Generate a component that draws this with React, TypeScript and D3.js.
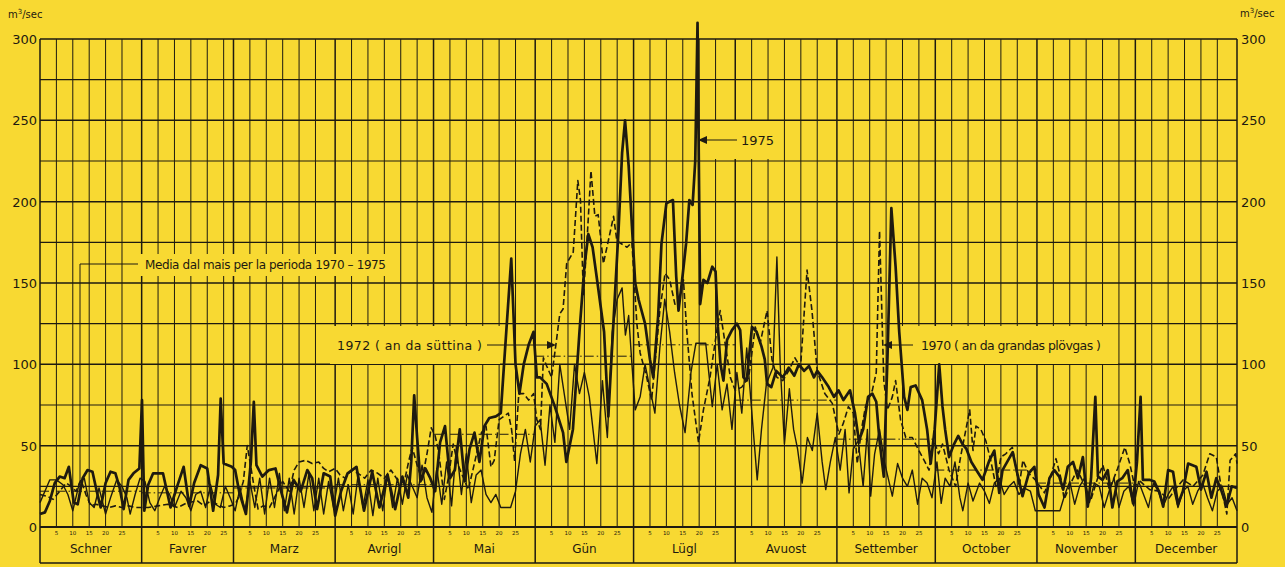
import React from "react";
import * as d3 from "d3";

// ---------- data ----------
const MONTHS = ["Schner", "Favrer", "Marz", "Avrigl", "Mai", "Gün", "Lügl", "Avuost", "Settember", "October", "November", "December"];
const MONTH_DAYS = [31, 28, 31, 30, 31, 30, 31, 31, 30, 31, 30, 31];
const DAY_TICKS = [5, 10, 15, 20, 25];
const Y_TICKS = [0, 50, 100, 150, 200, 250, 300];
const Y_GRID = [25, 50, 75, 100, 125, 150, 175, 200, 225, 250, 275, 300];
// monthly mean 1970-1975 (m3/sec)
const MEAN = [22, 21, 24, 26, 57, 105, 112, 78, 54, 35, 27, 25];

// [day of year, m3/sec]
const THICK_1975: [number, number][] = [
  [0, 8], [1.5, 9], [3, 16], [4.5, 27], [6, 31], [7.5, 30], [8.8, 37], [10.3, 15], [11.5, 14], [13, 30], [14.5, 35], [16, 34], [17.3, 22], [18.5, 12], [20, 27], [21.5, 34], [23, 33], [24.3, 24], [25.5, 11], [27, 29], [28.5, 33], [30.3, 36], [31.1, 78], [31.8, 10],
  [33, 26], [34.5, 33], [37.5, 33], [39.8, 12], [41.5, 23], [43.8, 37], [45.5, 13], [47, 27], [49, 38], [51, 36], [52.8, 10], [54.3, 32], [55.1, 79], [56, 39], [58.5, 37], [59.5, 35],
  [60.8, 21], [62.8, 8], [64.3, 40], [65.2, 77], [66, 38], [67.8, 31], [69.8, 35], [71.8, 36], [73.5, 22], [75.3, 9], [77.3, 29], [79.5, 22], [81.5, 35], [83, 30], [84.5, 11], [86.5, 33], [88.5, 31], [90, 7],
  [91.8, 22], [93.8, 33], [96.5, 37], [98.8, 10], [101.3, 34], [103.5, 12], [106, 32], [108.3, 11], [110.5, 31], [112.3, 18], [113.2, 40], [114.1, 81], [115, 55], [116, 28], [117.5, 36], [119, 30],
  [120.5, 22], [122, 52], [123.5, 62], [125, 30], [126.5, 35], [128, 60], [129.5, 28], [131, 48], [132.5, 58], [134, 40], [135.5, 62], [137, 67], [139, 68], [140.5, 70], [141.5, 100], [143.7, 165], [145, 100], [146.2, 82], [147.5, 100], [149, 112], [150.5, 120], [151.5, 92],
  [152.5, 92], [154.5, 88], [157, 74], [159.5, 58], [160.5, 40], [162.5, 60], [164.5, 120], [166, 160], [167.2, 180], [168.5, 172], [170, 150], [172, 120], [173.3, 68], [175, 131], [176.4, 182], [177.5, 230], [178.4, 250], [179.5, 222], [180.5, 185],
  [181.5, 150], [182.5, 140], [184.5, 125], [186, 103], [187, 92], [188.5, 130], [189.5, 174], [191, 199], [193, 201], [194, 154], [194.7, 133], [195.7, 150], [197, 174], [198, 201], [199, 198], [199.8, 225], [200.5, 310], [201.3, 137], [202.3, 152], [203.5, 150], [205, 160], [206, 157], [206.7, 123], [207.5, 100], [208.4, 90], [209.5, 115], [211, 121], [212.5, 125], [213.5, 121],
  [214.5, 92], [215.5, 90], [217.1, 123], [218.5, 120], [220, 111], [221, 103], [221.7, 88], [223, 86], [224.5, 96], [226.5, 92], [228.3, 98], [230, 93], [231.4, 100], [233, 96], [234.5, 99], [236, 92], [237, 96], [238.5, 92], [240.5, 86], [242.1, 80],
  [243.5, 84], [245, 78], [247, 84], [248.5, 70], [249.7, 53], [251, 60], [252.5, 80], [253.8, 82], [255, 77], [256, 53], [257.3, 31], [258.5, 110], [259.6, 196], [260.9, 160], [262, 120], [263.5, 80], [264.5, 72], [265.5, 86], [267, 87], [269, 78], [270.5, 60], [271.6, 39], [272.8, 60],
  [274.2, 100], [275.2, 74], [276, 60], [277.2, 43], [278.5, 50], [280, 56], [281.3, 51], [282.5, 48], [284, 40], [285.5, 35], [287.4, 29], [289.5, 41], [291, 47], [292.5, 21], [293.5, 35], [296.6, 46], [298, 33], [299.6, 19], [301.5, 33], [303.2, 37],
  [304.5, 20], [306.3, 12], [307.8, 30], [309.3, 35], [310.8, 31], [312, 23], [313.4, 37], [315, 40], [316.5, 30], [318, 43], [319.5, 12.5], [320.5, 30], [321.8, 80], [322.6, 31], [324, 29], [325.6, 35], [327, 12], [328.5, 28], [330, 30], [331.7, 35], [333.3, 14.5],
  [334.5, 40], [335.6, 80], [336.3, 29], [338.3, 29], [339.8, 28], [341.4, 21], [342.5, 12.5], [344, 35], [345.5, 34], [347, 14], [348.5, 22], [350.1, 39], [352.6, 37], [354, 23], [355.7, 34], [357.2, 18], [358.7, 30], [360.3, 22], [361.8, 13], [363.4, 25], [365, 24],
];

const DASHED_1970: [number, number][] = [
  [0, 20], [2, 19], [4, 17], [6, 22], [8, 27], [9.5, 25], [11, 22], [12.5, 29], [14, 20], [15.5, 13], [17, 14], [19, 13], [21, 12], [23, 13], [25, 12], [27, 13], [29, 12], [31, 12],
  [33, 12], [36, 13], [39, 14], [42, 12], [45, 15], [48, 16], [50, 13], [52, 16], [54, 14], [56, 12], [58, 13], [59.5, 14],
  [60.5, 18], [62, 28], [63.2, 50], [64.2, 38], [65.5, 22], [66.5, 11], [68, 13], [70, 12], [72, 20], [74, 28], [76, 22], [77.5, 35], [79, 40], [81, 41], [83, 39], [85, 40], [86.5, 36], [88, 34], [90, 36],
  [91.5, 32], [93, 30], [95, 35], [97, 33], [99, 30], [101, 35], [103, 33], [105, 30], [107, 35], [109, 29], [111, 27], [112.5, 41], [113.5, 49], [115, 38], [116.5, 29], [118, 45], [119.3, 61], [120.5, 56],
  [121.5, 47], [123.3, 17], [124.5, 30], [126, 51], [127.5, 38], [130.6, 23], [132, 35], [134.6, 58], [136, 62], [137.5, 37], [138.5, 41], [140, 66], [142.8, 70], [143.8, 60], [144.7, 41], [146, 82], [147.5, 82], [149, 78], [150.5, 82], [151.5, 66], [152.6, 60],
  [153.5, 104], [154.5, 99], [156, 92], [157.5, 115], [158.5, 131], [159.5, 134], [160.6, 162], [162.6, 169], [164, 213], [164.8, 201], [165.7, 142], [166.8, 176], [168, 219], [169.2, 191], [170.2, 192], [171.8, 162], [173.3, 176], [174.9, 191], [175.9, 176], [177.4, 174], [179, 172], [180.5, 175], [181.3, 148],
  [182, 125], [183, 107], [185, 92], [186.5, 78], [187.5, 100], [189, 133], [190.6, 156], [192, 152], [193.6, 137], [195, 140], [196.2, 152], [197.2, 121], [198.8, 82], [200.8, 52], [202.3, 72], [204.3, 92], [206.4, 121], [207.4, 133], [208.9, 113], [210.5, 92], [212, 84],
  [214, 86], [216.1, 92], [218.1, 123], [219.6, 113], [221.7, 133], [223.2, 103], [224.7, 92], [226.5, 90], [228.3, 96], [230.2, 104], [231.9, 98], [233.9, 158], [235.4, 133], [237, 96], [239.3, 82], [241.6, 76], [243.6, 57],
  [245, 64], [246.5, 74], [248, 70], [249.2, 39], [250.5, 60], [251.7, 74], [253.8, 84], [255, 95], [256, 182], [257.3, 90], [258.4, 72], [259.9, 80], [260.9, 90], [262.4, 66], [264, 55], [266, 55], [268, 47], [269.6, 41], [271.1, 35], [272.6, 53],
  [274, 45], [275.2, 51], [277.2, 35], [279.2, 25], [280.7, 43], [283.5, 72], [284.5, 47], [285.4, 62], [286.9, 60], [288.4, 53], [289.9, 41], [291.5, 25], [293, 43], [294.5, 45], [296.5, 49], [298.6, 25], [299.7, 41], [301.5, 33], [303.5, 29],
  [306.3, 21], [308, 30], [309.8, 42], [311.3, 30], [312.3, 17], [314.8, 29], [316.3, 35], [318, 28], [320.5, 17], [322.5, 30], [324.1, 38], [326.1, 23], [328.6, 36], [330.8, 49], [332.3, 39], [333.8, 25],
  [335.5, 28], [338.4, 23], [341.4, 22], [344, 17], [346.5, 24], [348.6, 29], [351.6, 25], [354.6, 32], [356.7, 45], [358.7, 43], [360.3, 23], [361.9, 8], [362.9, 41], [364.6, 45], [365, 39],
];

const THIN_1972: [number, number][] = [
  [0, 15], [1.5, 22], [3, 29], [5, 29], [7, 26], [8.5, 20], [10, 10], [12, 27], [13.5, 30], [15, 15], [16.5, 12], [18, 24], [20, 8], [21.5, 18], [23.4, 29], [25, 25], [26.5, 18], [27.5, 8], [29, 20], [30.5, 30],
  [32, 28], [33.5, 15], [35, 10], [36.5, 18], [38, 25], [39.5, 20], [41, 12], [43, 22], [44.5, 18], [46, 10], [47.5, 20], [49, 22], [50.5, 12], [52, 26], [53.5, 14], [55, 12], [56.5, 25], [58, 18], [59.5, 10],
  [61, 24], [62.5, 10], [64, 28], [65.5, 12], [67, 30], [68.5, 8], [70, 30], [71.5, 12], [73, 33], [74.5, 10], [76, 30], [77.5, 8], [79, 30], [80.5, 12], [82, 33], [83.5, 10], [85, 30], [86.5, 8], [88, 28], [89.5, 12],
  [91, 30], [92.5, 10], [94, 26], [95.5, 8], [97, 32], [98.5, 12], [100, 29], [101.5, 7], [103, 30], [104.5, 10], [106, 33], [107.5, 12], [109, 30], [110.5, 14], [112, 32], [113.5, 25], [115, 18], [116.5, 38], [118, 18], [119.5, 9],
  [121, 36], [122.5, 14], [124, 40], [125.5, 13], [127, 50], [128.5, 20], [130, 45], [131.5, 15], [133, 32], [134.5, 35], [136, 20], [137.5, 15], [139, 20], [140.5, 12], [143.5, 12], [145, 22], [146.5, 45], [148, 60], [149.5, 40], [151, 62],
  [152.5, 66], [154, 38], [155.5, 75], [157, 52], [158.5, 100], [160, 80], [161.5, 60], [163, 100], [164.5, 82], [166, 95], [167.5, 80], [169.8, 39], [171.5, 90], [173, 55], [174.5, 120], [176, 140], [177.5, 147], [178.5, 118], [179.5, 130], [180.5, 100],
  [181.5, 72], [183, 80], [184.5, 100], [186, 85], [187.5, 70], [189, 110], [190.5, 140], [192, 120], [193.5, 95], [195, 75], [196.7, 58], [198.5, 95], [200, 113], [203, 113], [205, 74], [206.5, 100], [208, 72], [209.5, 88], [211, 60],
  [212.5, 95], [214, 70], [215.5, 110], [217, 72], [218.7, 29], [220, 60], [221.5, 88], [223.5, 98], [224.7, 166], [225.7, 100], [227, 51], [228.5, 85], [229.8, 60], [231, 48], [232.4, 27], [234, 55], [235.5, 47], [237, 70], [238.5, 40], [239.6, 23], [241, 40], [242.5, 55],
  [244, 35], [245.5, 60], [246.7, 21], [248, 48], [249.5, 53], [251, 25], [252.3, 60], [253.3, 19], [254.5, 45], [256, 60], [257.5, 40], [259.9, 19], [261.5, 39], [263, 30], [264.5, 25], [266, 35], [267.6, 14], [269, 30], [270.5, 27], [272, 18],
  [273.5, 40], [274.8, 14.5], [276, 30], [277.5, 25], [279, 40], [280.5, 18], [281.4, 10], [283, 27], [284.5, 16], [286.5, 27], [288, 22], [289.5, 14.5], [291, 27], [292.5, 30], [294, 20], [295.5, 25], [297, 28], [298.5, 20], [300, 24], [302, 22], [303.5, 10],
  [305, 10], [307, 10], [311, 10], [312.5, 20], [314, 28], [315.5, 14], [317, 25], [318.5, 30], [320, 15], [321.5, 27], [323, 25], [324.5, 12], [326, 22], [327.5, 30], [329, 12], [330.5, 22], [332, 25], [333.5, 13],
  [335, 28], [336.5, 20], [338, 12], [339.5, 27], [341, 22], [342.5, 13], [344, 20], [345.5, 25], [347, 12], [348.5, 22], [350, 25], [351.5, 14], [353, 22], [354.5, 27], [356, 18], [357.5, 10], [359, 22], [360.5, 25], [362, 14], [363.5, 18], [365, 10],
];

// ---------- drawing ----------
const W = 1285;
const H = 567;
const BG = "#f8d932";
const INK = "#1e1a10";
const FONT = "'DejaVu Sans', 'Liberation Sans', sans-serif";

export default function App() {
  const x = d3.scaleLinear().domain([0, 365]).range([40, 1237]);
  const y = d3.scaleLinear().domain([0, 300]).range([527, 39]);
  const monthStart = [0, ...Array.from(d3.cumsum(MONTH_DAYS))];
  const line = d3.line<[number, number]>().x((d) => x(d[0])).y((d) => y(d[1]));
  const boxBottom = 563;

  const arrowLeft = (tx: number, ty: number) => `M${tx},${ty} L${tx + 9},${ty - 4} L${tx + 9},${ty + 4} Z`;
  const arrowRight = (tx: number, ty: number) => `M${tx},${ty} L${tx - 9},${ty - 4} L${tx - 9},${ty + 4} Z`;

  return (
    <div>
      <style>{`body{margin:0;background:${BG}}`}</style>
      <svg width={W} height={H} style={{ display: "block", background: BG }} fontFamily={FONT}>
        <rect width={W} height={H} fill={BG} />
        {/* horizontal grid */}
        {Y_GRID.map((v) => (
          <line key={"h" + v} x1={x(0)} x2={x(365)} y1={y(v)} y2={y(v)} stroke={INK} strokeWidth={v % 50 === 0 ? 1.5 : 1.1} />
        ))}
        {/* vertical grid */}
        {MONTH_DAYS.map((n, i) => (
          <g key={"vg" + i}>
            <line x1={x(monthStart[i])} x2={x(monthStart[i])} y1={y(300)} y2={y(0)} stroke={INK} strokeWidth={1.5} />
            {DAY_TICKS.map((d) => (
              <line key={d} x1={x(monthStart[i] + d)} x2={x(monthStart[i] + d)} y1={y(300)} y2={y(0)} stroke={INK} strokeWidth={1} />
            ))}
          </g>
        ))}
        <line x1={x(365)} x2={x(365)} y1={y(300)} y2={y(0)} stroke={INK} strokeWidth={1.5} />
        <line x1={x(0)} x2={x(365)} y1={y(0)} y2={y(0)} stroke={INK} strokeWidth={1.8} />

        {/* label backgrounds */}
        <rect x={703} y={121} width={80} height={38} fill={BG} />
        <rect x={330} y={326} width={170} height={38} fill={BG} />
        <rect x={900} y={326} width={218} height={38} fill={BG} />
        <rect x={140} y={254} width={252} height={22} fill={BG} />

        {/* monthly mean */}
        {MEAN.map((m, i) => (
          <line key={"m" + i} x1={x(monthStart[i])} x2={x(monthStart[i] + MONTH_DAYS[i])} y1={y(m)} y2={y(m)} stroke={INK} strokeWidth={1} strokeDasharray="9,3,1.5,3" />
        ))}

        {/* series */}
        <path d={line(THIN_1972) || ""} fill="none" stroke={INK} strokeWidth={1.4} strokeLinejoin="round" />
        <path d={line(DASHED_1970) || ""} fill="none" stroke={INK} strokeWidth={1.6} strokeDasharray="6,3" strokeLinejoin="round" />
        <path d={line(THICK_1975) || ""} fill="none" stroke={INK} strokeWidth={2.7} strokeLinejoin="round" />

        {/* annotations */}
        <line x1={700} x2={737} y1={140} y2={140} stroke={INK} strokeWidth={1} />
        <path d={arrowLeft(698, 140)} fill={INK} />
        <text x={741} y={145} fontSize={13} fill={INK}>1975</text>

        <text x={337} y={350} fontSize={12.5} fill={INK} textLength={145} lengthAdjust="spacing">1972   ( an da süttina )</text>
        <line x1={487} x2={550} y1={345} y2={345} stroke={INK} strokeWidth={1} />
        <path d={arrowRight(556, 345)} fill={INK} />

        <text x={921} y={350} fontSize={12.5} fill={INK} textLength={180} lengthAdjust="spacing">1970  ( an da grandas plövgas )</text>
        <line x1={888} x2={913} y1={345} y2={345} stroke={INK} strokeWidth={1} />
        <path d={arrowLeft(883, 345)} fill={INK} />

        <text x={145} y={269} fontSize={12} fill={INK} textLength={241} lengthAdjust="spacing">Media dal mais per la perioda 1970 – 1975</text>
        <line x1={80} x2={138} y1={264} y2={264} stroke={INK} strokeWidth={1} />
        <line x1={80} x2={80} y1={264} y2={y(MEAN[0])} stroke={INK} strokeWidth={1} />

        {/* y axis labels */}
        {Y_TICKS.map((v) => (
          <g key={"yt" + v}>
            <text x={37} y={y(v) + 5} fontSize={13} textAnchor="end" fill={INK}>{v}</text>
            <text x={1241} y={y(v) + 5} fontSize={13} textAnchor="start" fill={INK}>{v}</text>
          </g>
        ))}
        <text x={8} y={18} fontSize={10} fill={INK}>m<tspan dy={-4} fontSize={7}>3</tspan><tspan dy={4}>/sec</tspan></text>
        <text x={1240} y={17} fontSize={10} fill={INK}>m<tspan dy={-4} fontSize={7}>3</tspan><tspan dy={4}>/sec</tspan></text>

        {/* bottom month boxes */}
        <line x1={x(0)} x2={x(365)} y1={boxBottom} y2={boxBottom} stroke={INK} strokeWidth={1.5} />
        {monthStart.map((s, i) => (
          <line key={"mb" + i} x1={x(s)} x2={x(s)} y1={y(0)} y2={boxBottom} stroke={INK} strokeWidth={1.5} />
        ))}
        {MONTHS.map((m, i) => (
          <g key={"ml" + i}>
            {DAY_TICKS.map((d) => (
              <text key={d} x={x(monthStart[i] + d)} y={535} fontSize={5.5} textAnchor="middle" fill={INK}>{d}</text>
            ))}
            <text x={x(monthStart[i] + MONTH_DAYS[i] / 2)} y={553} fontSize={12} textAnchor="middle" fill={INK}>{m}</text>
          </g>
        ))}
      </svg>
    </div>
  );
}
